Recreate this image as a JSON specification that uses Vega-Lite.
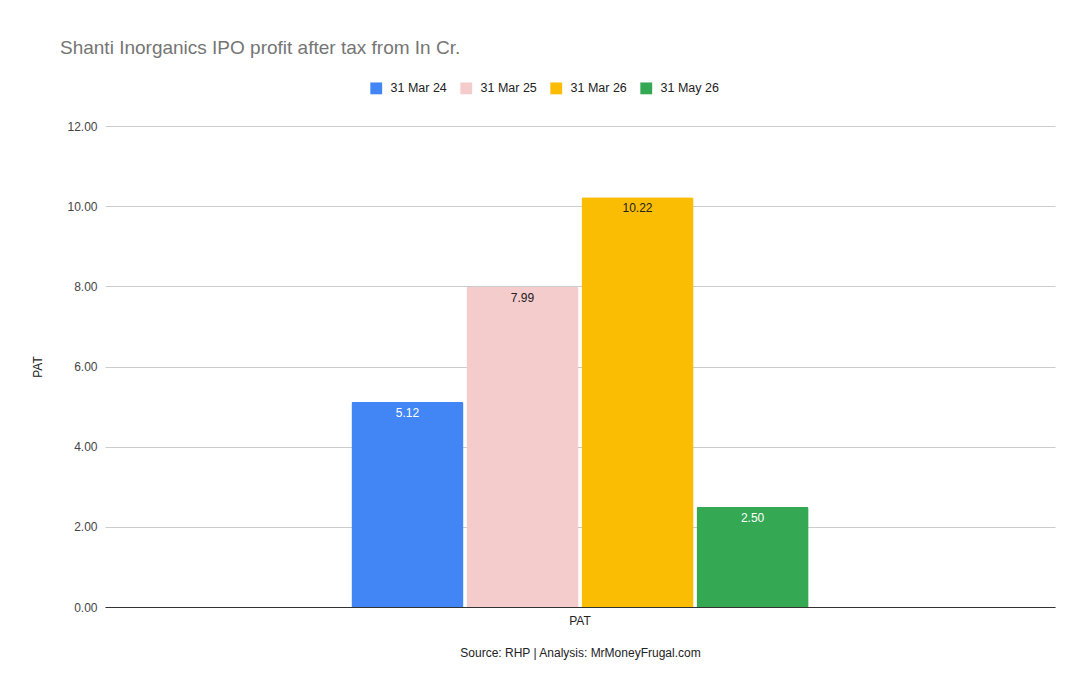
{
  "$schema": "https://vega.github.io/schema/vega-lite/v6.json",
  "autosize": {"type": "none"},
  "width": 950,
  "height": 481,
  "padding": {"left": 105, "top": 126, "right": 35, "bottom": 87},
  "background": "white",
  "config": {
    "view": {"stroke": null},
    "font": "Liberation Sans"
  },
  "title": {
    "text": "Shanti Inorganics IPO profit after tax from In Cr.",
    "anchor": "start",
    "frame": "group",
    "dx": -45,
    "offset": 24,
    "fontSize": 19,
    "fontWeight": "normal",
    "color": "#757575",
    "font": "Liberation Sans"
  },
  "data": {
    "values": [
      {"metric": "PAT", "period": "31 Mar 24", "value": 5.12, "label": "5.12"},
      {"metric": "PAT", "period": "31 Mar 25", "value": 7.99, "label": "7.99"},
      {"metric": "PAT", "period": "31 Mar 26", "value": 10.22, "label": "10.22"},
      {"metric": "PAT", "period": "31 May 26", "value": 2.5, "label": "2.50"}
    ]
  },
  "encoding": {
    "x": {
      "field": "metric",
      "type": "nominal",
      "title": "Source: RHP | Analysis: MrMoneyFrugal.com",
      "scale": {"paddingInner": 0, "paddingOuter": 0.539},
      "axis": {
        "labelAngle": 0,
        "labelFontSize": 12,
        "labelColor": "#222222",
        "labelPadding": 8,
        "ticks": false,
        "domainColor": "#333333",
        "titleFontSize": 12,
        "titleFontWeight": "normal",
        "titleColor": "#222222",
        "titlePadding": 21
      }
    },
    "xOffset": {
      "field": "period",
      "type": "nominal",
      "scale": {"paddingInner": 0.026, "paddingOuter": 0}
    },
    "y": {
      "field": "value",
      "type": "quantitative",
      "title": "PAT",
      "scale": {"domain": [0, 12]},
      "axis": {
        "values": [0, 2, 4, 6, 8, 10, 12],
        "format": ".2f",
        "labelFontSize": 12,
        "labelColor": "#444444",
        "labelPadding": 8,
        "ticks": false,
        "domain": false,
        "gridColor": "#cccccc",
        "titleFontSize": 12,
        "titleFontWeight": "normal",
        "titleColor": "#222222",
        "titlePadding": 22
      }
    }
  },
  "layer": [
    {
      "mark": {"type": "bar", "cornerRadiusTopLeft": 2, "cornerRadiusTopRight": 2},
      "encoding": {
        "color": {
          "field": "period",
          "type": "nominal",
          "title": null,
          "scale": {
            "domain": ["31 Mar 24", "31 Mar 25", "31 Mar 26", "31 May 26"],
            "range": ["#4285F4", "#F4CCCC", "#FBBC04", "#34A853"]
          },
          "legend": {
            "orient": "none",
            "direction": "horizontal",
            "legendX": 265,
            "legendY": -44,
            "symbolType": "square",
            "symbolSize": 140,
            "symbolStrokeWidth": 0,
            "labelFontSize": 12.5,
            "labelColor": "#222222",
            "columnPadding": 13,
            "labelOffset": 8
          }
        }
      }
    },
    {
      "mark": {"type": "text", "baseline": "top", "dy": 6, "fontSize": 12},
      "encoding": {
        "text": {"field": "label"},
        "color": {
          "condition": {"test": "datum.period === '31 Mar 24' || datum.period === '31 May 26'", "value": "white"},
          "value": "#222222"
        }
      }
    }
  ]
}
